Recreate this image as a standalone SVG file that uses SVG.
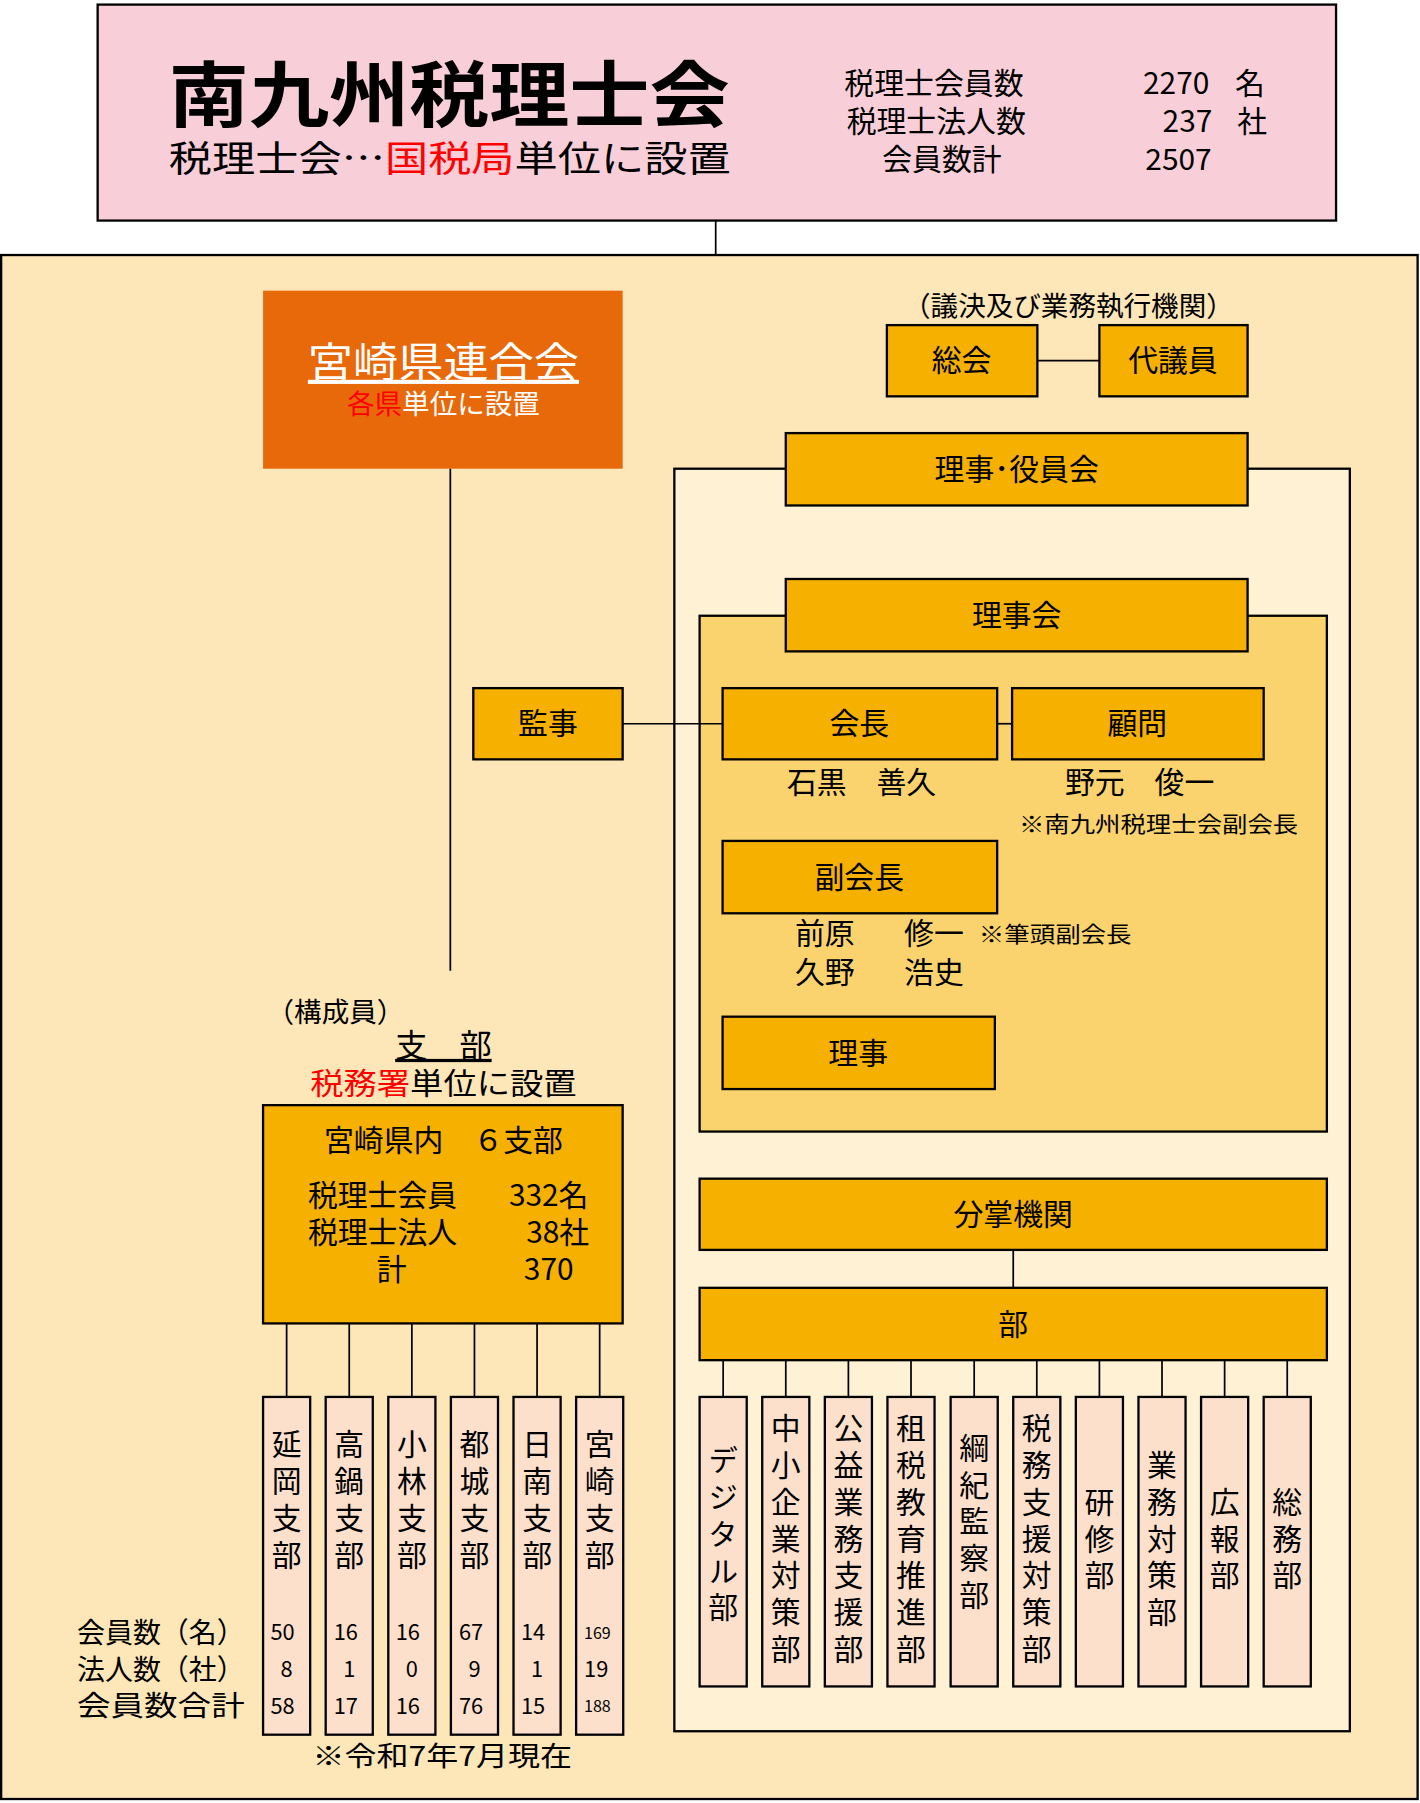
<svg xmlns="http://www.w3.org/2000/svg" width="1420" height="1803" viewBox="0 0 1420 1803">
<style>
text{font-family:"Noto Sans CJK JP","Noto Sans",sans-serif;fill:#000}
.b{stroke:#000;stroke-width:2}
.o{fill:#f5b000;stroke:#000;stroke-width:2}
.p{fill:#fde0cc;stroke:#000;stroke-width:2}
.c{text-anchor:middle}
.v{writing-mode:vertical-rl;text-anchor:middle;font-size:26px;letter-spacing:6px}
.r{fill:#ff0000}
.n{font-size:19px;text-anchor:middle}
line{stroke:#000;stroke-width:1.5}
</style>
<rect width="1420" height="1803" fill="#fff"/>
<g transform="scale(1.1488)">
<g id="top">
<rect x="85" y="4" width="1078" height="188" fill="#f8cfd8" class="b"/>
<text x="147" y="105" font-size="62" textLength="488" lengthAdjust="spacingAndGlyphs" font-weight="bold">南九州税理士会</text>
<text x="147" y="150" font-size="32" textLength="489" lengthAdjust="spacingAndGlyphs">税理士会…<tspan class="r">国税局</tspan>単位に設置</text>
<text x="735" y="82" font-size="26">税理士会員数</text><text x="995" y="82" font-size="26">2270  <tspan x="1075">名</tspan></text>
<text x="737" y="115" font-size="26">税理士法人数</text><text x="1012" y="115" font-size="26">237<tspan x="1077">社</tspan></text>
<text x="768" y="148" font-size="26">会員数計</text><text x="997" y="148" font-size="26">2507</text>
</g>
<rect x="1" y="222" width="1233" height="1344" fill="#fde6b8" class="b"/>
<g id="rengokai">
<rect x="229" y="253" width="313" height="155" fill="#e8690a"/>
<text x="386" y="328" font-size="36" class="c" textLength="236" lengthAdjust="spacingAndGlyphs" style="fill:#fff;text-decoration:underline">宮崎県連合会</text>
<text x="386" y="360" font-size="24" class="c" style="fill:#fff"><tspan class="r">各県</tspan>単位に設置</text>
</g>
<text x="930" y="275" font-size="24" class="c">（議決及び業務執行機関）</text>
<g id="sokai"><rect x="772" y="283" width="131" height="62" class="o"/><text x="837" y="323" font-size="26" class="c">総会</text></g>
<g id="daigiin"><rect x="957" y="283" width="129" height="62" class="o"/><text x="1021" y="323" font-size="26" class="c">代議員</text></g>
<rect x="587" y="408" width="588" height="1099" fill="#fff2d4" class="b"/>
<g id="yakuinkai"><rect x="684" y="377" width="402" height="63" class="o"/><text x="885" y="418" font-size="26" class="c">理事･役員会</text></g>
<rect x="609" y="536" width="546" height="449" fill="#fbd36e" class="b"/>
<g id="rijikai"><rect x="684" y="504" width="402" height="63" class="o"/><text x="885" y="545" font-size="26" class="c">理事会</text></g>
<g id="kanji"><rect x="412" y="599" width="130" height="62" class="o"/><text x="477" y="639" font-size="26" class="c">監事</text></g>
<g id="kaicho"><rect x="629" y="599" width="239" height="62" class="o"/><text x="748" y="639" font-size="26" class="c">会長</text>
<text x="750" y="690" font-size="26" class="c">石黒　善久</text></g>
<g id="komon"><rect x="881" y="599" width="219" height="62" class="o"/><text x="990" y="639" font-size="26" class="c">顧問</text>
<text x="992" y="690" font-size="26" class="c">野元　俊一</text>
<text x="887" y="724" font-size="19" textLength="243" lengthAdjust="spacingAndGlyphs">※南九州税理士会副会長</text></g>
<g id="fukukaicho"><rect x="629" y="732" width="239" height="63" class="o"/><text x="748" y="773" font-size="26" class="c">副会長</text>
<text x="692" y="822" font-size="26">前原<tspan x="787">修一</tspan></text>
<text x="852" y="820" font-size="19" textLength="133" lengthAdjust="spacingAndGlyphs">※筆頭副会長</text>
<text x="692" y="856" font-size="26">久野<tspan x="787">浩史</tspan></text></g>
<g id="riji"><rect x="629" y="885" width="237" height="63" class="o"/><text x="747" y="926" font-size="26" class="c">理事</text></g>
<g id="bunsho"><rect x="609" y="1026" width="546" height="62" class="o"/><text x="882" y="1066" font-size="26" class="c">分掌機関</text></g>
<g id="bu"><rect x="609" y="1121" width="546" height="63" class="o"/><text x="882" y="1162" font-size="26" class="c">部</text></g>
<g id="depts">
<rect x="609" y="1216" width="41" height="252" class="p"/><text x="629.5" y="1338" class="v">デジタル部</text>
<rect x="663.5" y="1216" width="41" height="252" class="p"/><text x="684" y="1342" class="v">中小企業対策部</text>
<rect x="718" y="1216" width="41" height="252" class="p"/><text x="738.5" y="1342" class="v">公益業務支援部</text>
<rect x="772.5" y="1216" width="41" height="252" class="p"/><text x="793" y="1342" class="v">租税教育推進部</text>
<rect x="827.5" y="1216" width="41" height="252" class="p"/><text x="848" y="1327" class="v">綱紀監察部</text>
<rect x="882" y="1216" width="41" height="252" class="p"/><text x="902.5" y="1342" class="v">税務支援対策部</text>
<rect x="936.5" y="1216" width="41" height="252" class="p"/><text x="957" y="1342" class="v">研修部</text>
<rect x="991" y="1216" width="41" height="252" class="p"/><text x="1011.5" y="1342" class="v">業務対策部</text>
<rect x="1045.5" y="1216" width="41" height="252" class="p"/><text x="1066" y="1342" class="v">広報部</text>
<rect x="1100" y="1216" width="41" height="252" class="p"/><text x="1120.5" y="1342" class="v">総務部</text>
</g>
<text x="232" y="890" font-size="24">（構成員）</text>
<text x="386" y="920" font-size="28" class="c" style="text-decoration:underline">支　部</text>
<text x="386" y="952" font-size="26" class="c" textLength="232" lengthAdjust="spacingAndGlyphs"><tspan class="r">税務署</tspan>単位に設置</text>
<g id="kennai"><rect x="229" y="962" width="313" height="190" class="o"/>
<text x="386" y="1002" font-size="26" class="c">宮崎県内　６支部</text>
<text x="268" y="1050" font-size="26">税理士会員<tspan x="443">332名</tspan></text>
<text x="268" y="1082" font-size="26">税理士法人<tspan x="458">38社</tspan></text>
<text x="328" y="1114" font-size="26">計<tspan x="456">370</tspan></text></g>
<g id="branches">
<rect x="229" y="1216" width="41" height="294" class="p"/><text x="249.5" y="1308" class="v">延岡支部</text>
<rect x="283.5" y="1216" width="41" height="294" class="p"/><text x="304" y="1308" class="v">高鍋支部</text>
<rect x="338" y="1216" width="41" height="294" class="p"/><text x="358.5" y="1308" class="v">小林支部</text>
<rect x="392.5" y="1216" width="41" height="294" class="p"/><text x="413" y="1308" class="v">都城支部</text>
<rect x="447" y="1216" width="41" height="294" class="p"/><text x="467.5" y="1308" class="v">日南支部</text>
<rect x="501.5" y="1216" width="41" height="294" class="p"/><text x="522" y="1308" class="v">宮崎支部</text>
<text class="n" x="246" y="1428">50</text><text class="n" x="249.5" y="1460">8</text><text class="n" x="246" y="1492">58</text>
<text class="n" x="301" y="1428">16</text><text class="n" x="304" y="1460">1</text><text class="n" x="301" y="1492">17</text>
<text class="n" x="355" y="1428">16</text><text class="n" x="358.5" y="1460">0</text><text class="n" x="355" y="1492">16</text>
<text class="n" x="410" y="1428">67</text><text class="n" x="413" y="1460">9</text><text class="n" x="410" y="1492">76</text>
<text class="n" x="464" y="1428">14</text><text class="n" x="467.5" y="1460">1</text><text class="n" x="464" y="1492">15</text>
<text class="n" x="520" y="1427" style="font-size:14px">169</text><text class="n" x="519" y="1460">19</text><text class="n" x="520" y="1490" style="font-size:14px">188</text>
</g>
<text x="67" y="1430" font-size="25" textLength="146" lengthAdjust="spacingAndGlyphs">会員数（名）</text>
<text x="67" y="1462" font-size="25" textLength="146" lengthAdjust="spacingAndGlyphs">法人数（社）</text>
<text x="67" y="1494" font-size="25" textLength="146" lengthAdjust="spacingAndGlyphs">会員数合計</text>
<text x="272" y="1537" font-size="24" textLength="226" lengthAdjust="spacingAndGlyphs">※令和7年7月現在</text>
<g id="connectors">
<line x1="623" y1="192" x2="623" y2="222"/>
<line x1="392" y1="408" x2="392" y2="845"/>
<line x1="903" y1="314" x2="957" y2="314"/>
<line x1="542" y1="630" x2="629" y2="630"/>
<line x1="868" y1="630" x2="881" y2="630"/>
<line x1="882" y1="1088" x2="882" y2="1121"/>
<line x1="249.5" y1="1152" x2="249.5" y2="1216"/>
<line x1="304" y1="1152" x2="304" y2="1216"/>
<line x1="358.5" y1="1152" x2="358.5" y2="1216"/>
<line x1="413" y1="1152" x2="413" y2="1216"/>
<line x1="467.5" y1="1152" x2="467.5" y2="1216"/>
<line x1="522" y1="1152" x2="522" y2="1216"/>
<line x1="629.5" y1="1184" x2="629.5" y2="1216"/>
<line x1="684" y1="1184" x2="684" y2="1216"/>
<line x1="738.5" y1="1184" x2="738.5" y2="1216"/>
<line x1="793" y1="1184" x2="793" y2="1216"/>
<line x1="848" y1="1184" x2="848" y2="1216"/>
<line x1="902.5" y1="1184" x2="902.5" y2="1216"/>
<line x1="957" y1="1184" x2="957" y2="1216"/>
<line x1="1011.5" y1="1184" x2="1011.5" y2="1216"/>
<line x1="1066" y1="1184" x2="1066" y2="1216"/>
<line x1="1120.5" y1="1184" x2="1120.5" y2="1216"/>
</g>
</g>
</svg>
